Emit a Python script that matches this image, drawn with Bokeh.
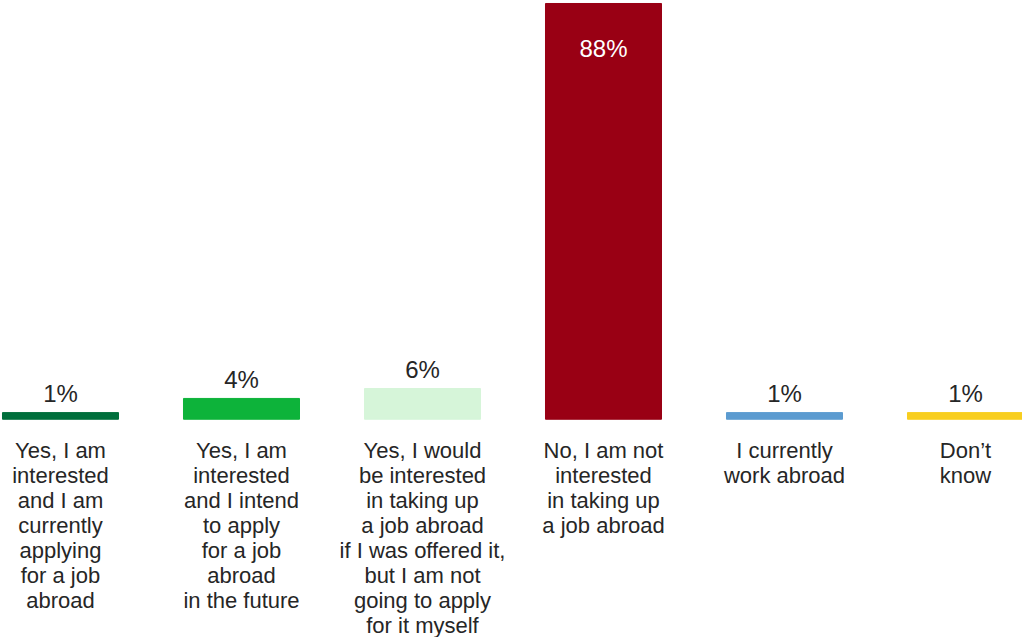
from bokeh.plotting import figure
from bokeh.models import Range1d, ColumnDataSource
from bokeh.core.properties import value
from bokeh.embed import file_html
from bokeh.resources import INLINE

categories = [
    "Yes, I am\ninterested\nand I am\ncurrently\napplying\nfor a job\nabroad",
    "Yes, I am\ninterested\nand I intend\nto apply\nfor a job\nabroad\nin the future",
    "Yes, I would\nbe interested\nin taking up\na job abroad\nif I was offered it,\nbut I am not\ngoing to apply\nfor it myself",
    "No, I am not\ninterested\nin taking up\na job abroad",
    "I currently\nwork abroad",
    "Don\u2019t\nknow",
]
values = [1.4, 4.4, 6.5, 88.0, 1.4, 1.4]
value_labels = ["1%", "4%", "6%", "88%", "1%", "1%"]
colors = ["#006f3c", "#0db33a", "#d6f5d9", "#990014", "#5b9bd0", "#f8ce1f"]

xs = list(range(len(categories)))
FONT = "Liberation Sans"
TXT = "#262626"

p = figure(width=1022, height=637, output_backend="svg", toolbar_location=None,
           x_range=Range1d(-0.3315, 5.3149), y_range=Range1d(-46.2, 88.635),
           min_border=0)
p.axis.visible = False
p.xgrid.visible = False
p.ygrid.visible = False
p.outline_line_color = None
p.background_fill_color = "white"
p.border_fill_color = "white"

src = ColumnDataSource(dict(x=xs, top=values, base=[0] * len(xs), color=colors, cat=categories,
                            lab_out=[l if v < 50 else "" for l, v in zip(value_labels, values)],
                            lab_in=[l if v >= 50 else "" for l, v in zip(value_labels, values)]))

p.vbar(x="x", top="top", bottom=0, width=0.641, color="color", source=src)

# value labels above bars
p.text(x="x", y="top", text="lab_out", source=src, text_align="center",
       text_baseline="alphabetic", y_offset=-19, text_font=value(FONT),
       text_font_size="24px", text_color=TXT)
# value label inside tall bar
p.text(x="x", y="top", text="lab_in", source=src, text_align="center",
       text_baseline="alphabetic", y_offset=45, text_font=value(FONT),
       text_font_size="24px", text_color="white")

# category labels below
p.text(x="x", y="base", text="cat", source=src, text_align="center",
       text_baseline="top", y_offset=19, text_font=value(FONT),
       text_font_size="22px", text_line_height=1.0, text_color=TXT)

open("out.html", "w").write(file_html(p, INLINE))
